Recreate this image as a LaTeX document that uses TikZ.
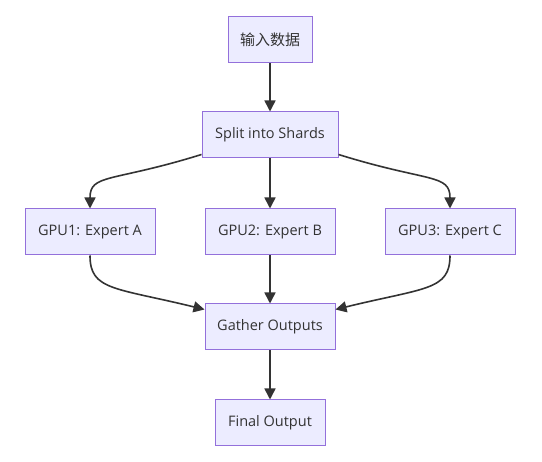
\documentclass[tikz,border=0pt]{standalone}
\usepackage{fontspec}
\setmainfont{Open Sans}
\newfontfamily\cjkfont{Noto Sans CJK SC}
\usepackage{xcolor}
\usepackage{tikz}
\usetikzlibrary{arrows.meta}
\definecolor{BoxFill}{HTML}{ECECFF}
\definecolor{BoxLine}{HTML}{9370DB}
\definecolor{Ink}{HTML}{333333}

\tikzset{
  box/.style={draw=BoxLine,fill=BoxFill,line width=1pt,minimum height=46pt,
    inner sep=0pt,text=Ink,font=\fontsize{14.5}{17}\selectfont},
  flow/.style={draw=Ink,line width=1.6pt,-{Triangle[length=11pt,width=11pt]}}
}

\begin{document}
\begin{tikzpicture}[x=1pt,y=-1pt]
  \useasboundingbox (0,0) rectangle (542,462);
  \node[box,minimum width=84pt] (input) at (270,40) {\cjkfont\fontsize{15}{17}\selectfont 输入数据};
  \node[box,minimum width=136pt] (split) at (270,135) {Split into Shards};
  \node[box,minimum width=130pt] (gpua) at (90,232) {GPU1: Expert A};
  \node[box,minimum width=130pt] (gpub) at (270,232) {GPU2: Expert B};
  \node[box,minimum width=130pt] (gpuc) at (450,232) {GPU3: Expert C};
  \node[box,minimum width=130pt] (gather) at (270,327) {Gather Outputs};
  \node[box,minimum width=110pt] (final) at (270,423) {Final Output};
  % edges
  \draw[flow] (input) -- (split);
  \draw[flow] ([yshift=4pt]split.south west) .. controls +(-90,28) and +(0,-35) .. (gpua.north);
  \draw[flow] (split) -- (gpub);
  \draw[flow] ([yshift=4pt]split.south east) .. controls +(90,28) and +(0,-35) .. (gpuc.north);
  \draw[flow] (gpua.south) .. controls +(0,35) and +(-90,-22) .. ([yshift=-6pt]gather.north west);
  \draw[flow] (gpub) -- (gather);
  \draw[flow] (gpuc.south) .. controls +(0,35) and +(90,-22) .. ([yshift=-6pt]gather.north east);
  \draw[flow] (gather) -- (final);
\end{tikzpicture}
\end{document}
